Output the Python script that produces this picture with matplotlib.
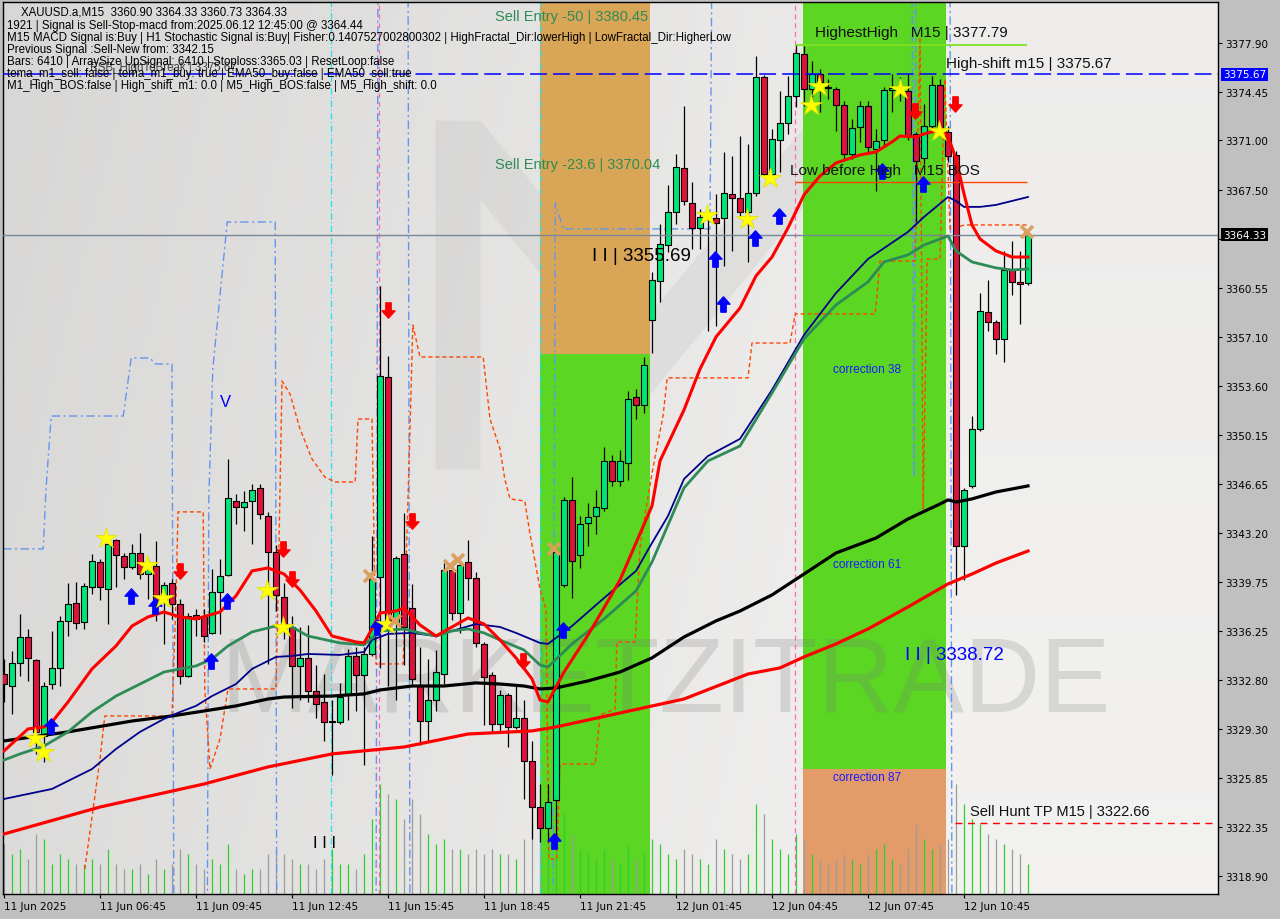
import numpy as np
import matplotlib
matplotlib.use('Agg')
import matplotlib.pyplot as plt
from matplotlib.path import Path
from matplotlib.patches import Polygon
from matplotlib.transforms import blended_transform_factory

plt.rcParams['font.family'] = ['Liberation Sans', 'DejaVu Sans']

# ---------------- data ----------------
opens = [3333.21,3332.36,3333.99,3335.83,3334.20,3328.82,3332.50,3333.64,3336.97,3338.24,
         3336.90,3339.37,3341.15,3339.23,3342.70,3341.57,3340.79,3341.78,3340.30,3340.86,
         3338.38,3339.66,3338.17,3333.07,3337.39,3337.32,3336.12,3339.02,3340.22,3345.46,
         3345.04,3345.46,3346.38,3344.40,3341.85,3338.67,3336.54,3333.78,3334.35,3332.01,
         3331.23,3329.81,3329.81,3331.73,3334.49,3333.14,3334.63,3340.08,3354.25,3336.90,
         3341.71,3337.89,3332.36,3329.88,3331.37,3333.21,3340.58,3337.53,3341.15,3340.01,
         3335.34,3333.14,3329.67,3331.73,3329.46,3330.10,3327.05,3323.79,3322.31,3324.29,
         3339.52,3345.54,3341.64,3343.91,3344.40,3344.97,3348.30,3346.88,3348.16,3352.83,
         3352.26,3358.28,3361.05,3363.60,3365.93,3369.05,3366.57,3364.80,3365.44,3365.51,
         3365.51,3367.21,3366.92,3365.93,3367.28,3375.49,3368.62,3371.03,3372.23,3374.15,
         3377.12,3374.64,3375.70,3374.78,3374.64,3373.51,3370.04,3371.95,3373.44,3370.39,
         3371.03,3374.57,3374.64,3374.50,3371.46,3369.76,3372.02,3374.93,3371.60,3369.97,
         3342.28,3346.53,3350.56,3358.85,3358.14,3356.94,3361.82,3360.97,3360.90]
highs = [3334.27,3334.84,3337.46,3336.40,3334.30,3332.65,3336.26,3337.32,3339.66,3339.73,
         3339.66,3341.71,3341.36,3342.99,3342.77,3341.78,3342.42,3343.20,3341.36,3342.63,
         3339.73,3339.94,3338.52,3337.50,3337.82,3337.82,3340.65,3341.36,3348.44,3345.96,
         3346.17,3346.67,3346.67,3344.69,3342.35,3339.66,3337.32,3336.54,3336.68,3333.85,
         3333.21,3331.37,3332.57,3334.98,3335.12,3335.12,3342.99,3360.69,3355.73,3341.57,
         3344.61,3339.59,3335.12,3334.27,3334.91,3341.07,3341.22,3341.07,3342.70,3340.44,
         3335.48,3333.35,3332.08,3331.87,3332.50,3331.37,3328.47,3325.42,3325.42,3342.35,
         3345.75,3347.16,3344.40,3345.32,3346.24,3349.29,3348.72,3349.08,3353.25,3353.40,
         3355.66,3361.68,3365.08,3367.84,3370.04,3373.44,3368.06,3366.14,3365.79,3367.21,
         3370.18,3369.90,3371.31,3370.75,3376.98,3375.60,3371.81,3374.50,3375.56,3377.79,
         3377.69,3376.63,3376.06,3375.35,3374.78,3373.79,3372.52,3373.79,3373.79,3371.81,
         3374.78,3375.70,3375.50,3375.70,3371.60,3373.58,3375.56,3375.35,3372.02,3370.25,
         3346.38,3351.48,3360.20,3361.12,3358.28,3363.17,3363.88,3363.17,3364.33]
lows = [3331.23,3330.38,3333.07,3332.71,3327.55,3326.98,3332.15,3332.36,3335.90,3336.40,
        3336.40,3338.88,3338.45,3336.75,3339.37,3339.94,3340.65,3339.94,3338.52,3336.97,
        3335.34,3337.11,3332.50,3333.00,3335.90,3335.48,3336.05,3336.05,3340.15,3343.84,
        3343.34,3342.42,3344.19,3333.92,3337.67,3335.69,3330.81,3331.37,3331.23,3330.10,
        3328.47,3326.06,3329.67,3329.96,3330.59,3326.77,3334.49,3333.64,3332.36,3331.37,
        3333.85,3332.50,3328.18,3328.47,3330.59,3332.50,3337.04,3336.12,3338.45,3335.12,
        3329.60,3329.03,3329.03,3328.04,3329.32,3324.36,3321.53,3321.32,3321.32,3320.82,
        3339.37,3338.59,3340.72,3342.28,3343.13,3344.76,3346.53,3346.53,3346.95,3351.27,
        3351.70,3355.95,3359.56,3363.10,3365.08,3366.43,3363.31,3363.31,3357.50,3357.86,
        3362.11,3363.17,3365.65,3362.39,3367.06,3368.50,3368.50,3368.76,3371.46,3373.37,
        3373.40,3373.72,3373.01,3373.93,3371.67,3369.68,3369.68,3370.89,3370.18,3367.42,
        3370.61,3373.01,3373.80,3371.00,3365.22,3369.30,3371.80,3371.30,3369.50,3338.81,
        3339.87,3346.38,3350.42,3357.50,3355.88,3355.31,3360.05,3358.00,3360.73]
closes = [3332.50,3333.99,3335.83,3334.35,3329.11,3332.36,3333.64,3336.97,3338.17,3336.82,
          3339.45,3341.22,3339.37,3342.42,3341.64,3340.79,3341.78,3340.30,3340.65,3338.38,
          3339.52,3338.17,3333.07,3337.32,3337.11,3335.90,3339.02,3340.15,3345.68,3345.04,
          3345.39,3346.24,3344.54,3341.85,3338.81,3336.40,3333.78,3334.35,3332.01,3331.09,
          3329.81,3329.90,3331.58,3334.49,3333.14,3334.63,3339.94,3354.32,3336.54,3341.43,
          3336.54,3332.86,3329.88,3331.37,3333.35,3340.58,3337.53,3340.93,3340.01,3335.41,
          3333.00,3329.67,3331.73,3329.46,3330.10,3327.05,3323.79,3322.31,3324.15,3341.85,
          3345.54,3341.22,3343.84,3344.33,3345.04,3348.30,3346.88,3348.30,3352.69,3352.26,
          3355.10,3361.12,3363.67,3365.93,3369.12,3366.71,3364.80,3365.58,3365.58,3365.15,
          3367.28,3366.92,3365.93,3367.28,3375.49,3368.62,3371.10,3372.23,3374.15,3377.19,
          3374.64,3375.70,3375.14,3374.70,3373.51,3370.04,3371.88,3373.44,3370.53,3370.96,
          3374.57,3374.71,3374.40,3371.31,3369.54,3372.02,3374.93,3371.67,3369.90,3342.28,
          3346.24,3350.56,3358.92,3358.14,3356.94,3361.82,3360.97,3360.83,3364.33]
volumes = [50,40,45,35,60,55,30,40,35,30,30,
           35,30,45,30,25,25,30,20,35,25,30,45,40,30,25,
           35,30,50,25,20,25,25,40,45,40,35,30,30,25,35,
           45,30,30,25,40,75,
           110,100,95,75,95,80,60,50,55,45,45,40,45,40,
           45,40,40,35,55,70,65,60,
           110,80,60,45,40,35,45,35,30,50,35,40,
           55,50,40,35,45,40,35,30,55,45,40,35,40,90,80,
           55,45,40,60,55,40,35,30,35,40,35,30,40,45,50,35,30,45,70,55,45,50,55,
           110,90,75,70,60,55,50,45,40,30]
VOL_FULL = 892.0

time_labels = ["11 Jun 2025", "11 Jun 06:45", "11 Jun 09:45", "11 Jun 12:45", "11 Jun 15:45",
               "11 Jun 18:45", "11 Jun 21:45", "12 Jun 01:45", "12 Jun 04:45", "12 Jun 07:45",
               "12 Jun 10:45"]
price_ticks = [3377.90, 3374.45, 3371.00, 3367.50, 3364.05, 3360.55, 3357.10, 3353.60, 3350.15,
               3346.65, 3343.20, 3339.75, 3336.25, 3332.80, 3329.30, 3325.85, 3322.35, 3318.90]

# moving averages (read at sample bars)
fast_x = [0,3,5,6,8,11,14,16,18,20,22,24,27,29,31,33,35,37,39,41,44,45,46,47,49,50,52,54,56,58,
          60,62,64,66,67,68,70,73,75,77,79,81,82,85,87,89,92,94,96,98,100,102,104,107,109,111,112,
          114,115,117,118,119,120,121,122,124,126,128]
fast_y = [3327.76,3329.32,3329.46,3329.81,3331.23,3333.57,3335.20,3336.61,3337.25,3337.60,
          3337.25,3337.11,3337.60,3338.74,3340.51,3340.72,3340.29,3339.16,3337.67,3335.90,
          3335.48,3335.41,3336.40,3337.53,3337.67,3337.89,3336.68,3335.90,3336.54,3337.18,
          3336.75,3335.62,3334.35,3332.86,3331.37,3331.23,3333.35,3335.97,3337.89,3339.87,
          3342.49,3345.11,3348.30,3351.91,3354.81,3357.08,3359.13,3361.40,3362.74,3364.80,
          3367.14,3368.48,3369.40,3369.97,3370.18,3370.89,3371.31,3371.24,3371.46,3371.74,
          3371.31,3369.68,3367.21,3365.01,3364.02,3363.17,3362.74,3362.74]
green_x = [0,2,5,8,11,14,17,20,22,24,26,28,31,34,36,38,42,45,47,50,52,54,56,58,60,62,65,67,68,71,
           75,79,81,83,85,88,92,96,100,104,108,110,113,115,118,119,121,124,126,128]
green_y = [3327.12,3327.55,3328.11,3329.11,3330.52,3331.65,3332.50,3333.35,3333.57,3333.78,
           3334.27,3335.20,3336.19,3336.61,3336.54,3335.90,3335.41,3335.27,3336.26,3336.40,
           3336.12,3335.90,3336.26,3336.40,3336.12,3335.62,3334.91,3333.85,3333.71,3335.34,
           3337.11,3339.09,3341.14,3343.76,3346.39,3348.30,3349.36,3353.11,3356.94,3359.35,
           3360.98,3362.39,3362.89,3363.59,3364.23,3363.17,3362.39,3361.97,3361.82,3361.89]
navy_x = [0,6,11,14,17,20,22,24,26,29,31,34,36,38,42,45,46,48,51,54,56,59,62,64,67,68,71,75,79,81,
          83,85,88,92,96,100,104,108,113,115,118,119,120,122,124,128]
navy_y = [3324.36,3325.07,3326.48,3327.90,3329.11,3330.03,3330.52,3330.95,3331.65,3332.50,
          3333.57,3334.42,3334.49,3334.63,3334.56,3334.77,3335.62,3336.05,3336.12,3335.90,
          3336.26,3336.75,3336.54,3336.12,3335.41,3335.34,3336.61,3338.59,3340.51,3342.49,
          3344.40,3347.02,3348.65,3349.86,3353.33,3357.22,3360.19,3362.60,3364.52,3365.58,
          3366.99,3366.71,3366.29,3366.29,3366.43,3366.99]
black_x = [0,8,16,21,25,29,33,35,41,45,47,51,55,59,62,65,67,69,73,77,81,85,89,92,96,100,104,109,
           113,117,118,119,121,124,128]
black_y = [3328.47,3329.11,3329.88,3330.24,3330.59,3330.95,3331.44,3331.58,3331.65,3331.80,
           3332.08,3332.36,3332.36,3332.58,3332.50,3332.36,3332.15,3332.22,3332.72,3333.35,
           3334.35,3335.83,3336.97,3337.67,3338.81,3340.29,3341.78,3342.84,3344.19,3345.25,
           3345.54,3345.39,3345.61,3346.10,3346.53]
slow_x = [0,12,25,33,41,50,58,66,69,77,85,93,97,100,104,108,113,118,121,124,128]
slow_y = [3321.88,3323.79,3325.42,3326.63,3327.55,3328.04,3328.96,3329.18,3329.46,3330.45,
          3331.44,3333.21,3333.64,3334.42,3335.34,3336.40,3337.96,3339.59,3340.29,3341.07,3341.92]

# stepped channel lines
orng_x = [10.1,12.0,12.6,21.0,21.5,21.75,24.9,25.1,25.75,27.0,28.0,34.0,34.25,34.75,35.75,37.0,
          38.5,40.1,41.4,43.9,44.25,46.0,46.5,49.9,50.75,51.1,52.0,59.9,60.75,62.0,62.6,63.25,
          65.1,65.75,67.0,67.75,68.1,69.1,69.5,73.9,74.5,76.4,76.6,78.9,79.5,80.1,81.1,82.4,
          82.9,93.0,93.5,98.25,98.9,108.9,109.5,113.9,114.5,114.9,115.4,117.0,117.6,118.25,
          120.1,127.9]
orng_y = [3319.40,3327.19,3330.24,3330.24,3338.52,3344.69,3344.69,3332.15,3326.48,3328.61,
          3332.15,3332.15,3338.52,3353.96,3353.04,3350.56,3348.44,3347.16,3346.81,3346.81,
          3351.27,3351.27,3333.92,3333.92,3350.56,3357.93,3355.66,3355.66,3351.27,3349.15,
          3347.02,3345.61,3345.46,3343.13,3339.23,3337.82,3320.11,3320.11,3326.84,3326.84,
          3330.31,3330.73,3335.48,3335.48,3342.14,3344.40,3347.73,3351.55,3354.18,3354.18,
          3356.65,3356.65,3358.71,3358.71,3362.46,3362.46,3378.18,3344.90,3362.60,3362.60,
          3375.35,3364.73,3365.01,3365.01]
blue_x = [-0.1,4.9,5.25,5.9,14.9,15.9,18.25,18.9,21.0,21.25,25.4,25.6,26.1,27.9,33.9,34.1,
          46.5,46.75,50.5,50.75,68.6,68.9,69.9,88.25,88.5,113.5,113.75,114.0,118.25,118.5,127.9]
blue_y = [3342.07,3342.07,3346.31,3351.48,3351.48,3355.59,3355.59,3355.17,3355.17,3313.74,
          3313.74,3345.61,3354.81,3365.22,3365.22,3313.74,3313.74,3384.56,3384.56,3313.74,
          3313.74,3366.57,3364.73,3364.73,3384.56,3384.56,3347.16,3384.56,3384.56,3313.74,3313.74]

# signal markers
star_x = [3.9,4.9,12.75,17.9,19.9,32.9,34.9,47.9,87.9,92.9,95.75,100.9,101.9,112.0,116.9]
star_y = [3328.68,3327.69,3342.84,3340.93,3338.59,3339.16,3336.54,3336.75,3365.72,3365.44,
          3368.34,3373.51,3374.85,3374.64,3371.67]
up_x = [5.9,15.9,18.9,25.9,27.9,46.6,69.9,68.75,88.9,89.9,93.9,96.9,109.75,114.9]
up_y = [3329.53,3338.74,3338.03,3334.13,3338.38,3336.54,3336.33,3321.39,3362.60,3359.42,
        3364.09,3365.65,3368.84,3367.91]
dn_x = [22.0,34.9,36.0,48.0,51.0,64.9,113.9,118.9]
dn_y = [3340.51,3342.07,3339.94,3358.99,3344.05,3334.13,3373.08,3373.58]
cross_x = [45.75,48.9,55.75,56.75,68.75,127.9]
cross_y = [3340.15,3336.97,3340.86,3341.29,3342.07,3364.52]

# zones
zone1 = (66.95, 80.75, 3355.88)   # orange above, green below
zone2 = (99.9, 117.75, 3326.48)   # green above, orange below

info_lines = [
    "XAUUSD.a,M15  3360.90 3364.33 3360.73 3364.33",
    "1921 | Signal is Sell-Stop-macd from:2025.06.12 12:45:00 @ 3364.44",
    "M15 MACD Signal is:Buy | H1 Stochastic Signal is:Buy| Fisher:0.1407527002800302 | HighFractal_Dir:lowerHigh | LowFractal_Dir:HigherLow",
    "Previous Signal :Sell-New from: 3342.15",
    "Bars: 6410 | ArraySize UpSignal: 6410 | Stoploss:3365.03 | ResetLoop:false",
    "tema_m1_sell: false | tema_m1_buy: true | EMA50_buy:false | EMA50_sell:true",
    "M1_High_BOS:false | High_shift_m1: 0.0 | M5_High_BOS:false | M5_High_shift: 0.0",
]

# ---------------- figure ----------------
W, H = 1280, 920
fig = plt.figure(figsize=(W / 100, H / 100), dpi=100)
fig.patch.set_facecolor('#C0C0C0')
ax = fig.add_axes([3 / W, 25 / H, 1215 / W, 892 / H])
XL = (-0.125, 151.75)
YL = (3317.63, 3380.80)
ax.set_xlim(*XL)
ax.set_ylim(*YL)
ax.set_facecolor('#E2E2E2')

# background gradient
gx = np.linspace(0, 1, 300)[None, :]
gy = np.linspace(0, 1, 300)[:, None]
val = 0.845 + 0.085 * np.clip(gx * 1.3, 0, 1) + 0.02 * gy
img = np.dstack([val, val * 0.997, val * 0.993])
ax.imshow(img, extent=[0, 1, 0, 1], transform=ax.transAxes, aspect='auto', zorder=0)

# faint "M" logo watermark (axes fractions)
m_logo = [(0.356, 0.476), (0.356, 0.867), (0.393, 0.867), (0.528, 0.643), (0.664, 0.867),
          (0.701, 0.867), (0.701, 0.476), (0.664, 0.476), (0.664, 0.778), (0.528, 0.552),
          (0.393, 0.778), (0.393, 0.476)]
ax.add_patch(Polygon(m_logo, closed=True, transform=ax.transAxes, facecolor='#000000',
                     alpha=0.045, edgecolor='none', zorder=0.2))

# zones
c_green = '#5AD623'
c_orange1 = '#D9A556'
c_orange2 = '#E39B69'
ax.fill_between([zone1[0], zone1[1]], zone1[2], YL[1], color=c_orange1, lw=0, zorder=0.5)
ax.fill_between([zone1[0], zone1[1]], YL[0], zone1[2], color=c_green, lw=0, zorder=0.5)
ax.fill_between([zone2[0], zone2[1]], zone2[2], YL[1], color=c_green, lw=0, zorder=0.5)
ax.fill_between([zone2[0], zone2[1]], YL[0], zone2[2], color=c_orange2, lw=0, zorder=0.5)

# watermark text
ax.text(0.545, 0.236, "MARKETZITRADE", transform=ax.transAxes, fontsize=76,
        color='#7A7A7A', alpha=0.22, ha='center', va='center', zorder=1)

# volumes
o = np.array(opens); h = np.array(highs); l = np.array(lows); c = np.array(closes)
h = np.maximum(h, np.maximum(o, c)); l = np.minimum(l, np.minimum(o, c))
x = np.arange(len(o))
up = c >= o
vt = blended_transform_factory(ax.transData, ax.transAxes)
vcols = np.where(up, '#2FCF2F', '#9C9C9C')
ax.vlines(x, 0, np.array(volumes) / VOL_FULL, transform=vt, colors=vcols, lw=0.9, zorder=1.5)

# vertical marker lines
for xv in (40.9, 67.0):
    ax.axvline(xv, color='#22E0F0', lw=0.9, linestyle=(0, (5, 2, 1, 2)), zorder=2)
for xv in (46.9, 98.9):
    ax.axvline(xv, color='#FF69B4', lw=0.9, linestyle=(0, (4, 3)), zorder=2)

# stepped lines
ax.plot(blue_x, blue_y, color='#6495ED', lw=1.0, linestyle=(0, (6, 2.5, 1.5, 2.5)), zorder=2)
ax.plot(orng_x, orng_y, color='#FF4500', lw=1.0, linestyle=(0, (3, 2)), zorder=2)

# candles
ax.vlines(x, l, h, color='black', lw=0.9, zorder=3)
blo = np.minimum(o, c)
bh = np.maximum(np.abs(c - o), 0.08)
ax.bar(x[up], bh[up], bottom=blo[up], width=0.64, color='#00E676', edgecolor='black',
       linewidth=0.8, zorder=3.1)
ax.bar(x[~up], bh[~up], bottom=blo[~up], width=0.64, color='#DC143C', edgecolor='black',
       linewidth=0.8, zorder=3.1)

# horizontal levels
ax.axhline(3375.67, color='#0000FF', lw=1.1, linestyle=(0, (11, 4)), zorder=3.5)
ax.axhline(3364.33, color='#778899', lw=1.0, zorder=3.5)
ax.hlines(3322.66, 118.9, XL[1], color='#FF0000', lw=1.0, linestyle=(0, (5, 4)), zorder=3.5)
ax.hlines(3377.79, 98.9, 127.9, color='#7FE020', lw=1.3, zorder=3.5)
ax.hlines(3368.06, 98.9, 127.9, color='#FF4500', lw=1.0, zorder=3.5)

# moving averages
ax.plot(slow_x, slow_y, color='#FF0000', lw=2.3, zorder=4, solid_joinstyle='round')
ax.plot(black_x, black_y, color='#000000', lw=2.3, zorder=4, solid_joinstyle='round')
ax.plot(navy_x, navy_y, color='#00008B', lw=1.3, zorder=4.1, solid_joinstyle='round')
ax.plot(green_x, green_y, color='#2E8B57', lw=2.0, zorder=4.2, solid_joinstyle='round')
ax.plot(fast_x, fast_y, color='#FF0000', lw=2.2, zorder=4.3, solid_joinstyle='round')

# markers
up_arrow = Path([(0, 1), (0.85, 0.05), (0.35, 0.05), (0.35, -1), (-0.35, -1),
                 (-0.35, 0.05), (-0.85, 0.05), (0, 1)],
                [Path.MOVETO] + [Path.LINETO] * 6 + [Path.CLOSEPOLY])
dn_arrow = Path([(0, -1), (0.85, -0.05), (0.35, -0.05), (0.35, 1), (-0.35, 1),
                 (-0.35, -0.05), (-0.85, -0.05), (0, -1)],
                [Path.MOVETO] + [Path.LINETO] * 6 + [Path.CLOSEPOLY])
ax.plot(up_x, up_y, ls='none', marker=up_arrow, ms=11, color='#0000FF', mec='#0000FF', zorder=5)
ax.plot(dn_x, dn_y, ls='none', marker=dn_arrow, ms=11, color='#FF0000', mec='#FF0000', zorder=5)
ax.plot(star_x, star_y, ls='none', marker='*', ms=16, color='#FFFF00', mec='#E0E000',
        mew=0.5, zorder=5)
ax.plot(cross_x, cross_y, ls='none', marker='x', ms=8, color='#D9A060', mew=2.6, zorder=5)

# chart texts
tk = dict(va='center', ha='left', zorder=6)
ax.text(61.4, 3379.8, "Sell Entry -50 | 3380.45", color='#2E8B57', fontsize=10.5, **tk)
ax.text(61.4, 3369.35, "Sell Entry -23.6 | 3370.04", color='#2E8B57', fontsize=10.5, **tk)
ax.text(73.5, 3362.85, "I I | 3355.69", color='#000000', fontsize=13.5, **tk)
ax.text(101.4, 3378.68, "HighestHigh   M15 | 3377.79", color='#111111', fontsize=11, **tk)
ax.text(117.75, 3376.48, "High-shift m15 | 3375.67", color='#111111', fontsize=11, **tk)
ax.text(98.25, 3368.9, "Low before High   M15 BOS", color='#111111', fontsize=11, **tk)
ax.text(103.6, 3354.81, "correction 38", color='#1A1AFF', fontsize=8.5, **tk)
ax.text(103.6, 3341.0, "correction 61", color='#1A1AFF', fontsize=8.5, **tk)
ax.text(103.6, 3325.92, "correction 87", color='#1A1AFF', fontsize=8.5, **tk)
ax.text(112.6, 3334.56, "I I | 3338.72", color='#0000FF', fontsize=13.5, **tk)
ax.text(120.75, 3323.51, "Sell Hunt TP M15 | 3322.66", color='#111111', fontsize=10.5, **tk)
ax.text(38.6, 3321.31, "I I I", color='#000000', fontsize=12, **tk)
ax.text(27.0, 3352.48, "V", color='#0000FF', fontsize=12, **tk)
ax.text(10.7, 3376.2, "ESB_HighToBreak | 3375.67", color='#404040', fontsize=8.3, **tk)

# info block
for k, line in enumerate(info_lines):
    xp = 21 if k == 0 else 7
    yp = [12.5, 25.7, 37.7, 49.8, 61.7, 73.5, 85.7][k]
    fig.text(xp / W, 1 - yp / H, line, fontsize=8.3, color='black', va='center', ha='left',
             zorder=10)

# axes styling
for s in ax.spines.values():
    s.set_color('black'); s.set_linewidth(1.0)
ax.yaxis.tick_right()
ax.set_yticks(price_ticks)
# the 3364.05 label sits under the current-price box, as in the terminal
ax.set_yticklabels(["" if abs(v - 3364.05) < 1e-6 else f"{v:.2f}" for v in price_ticks],
                   fontfamily='DejaVu Sans', fontsize=7.5)
ax.set_xticks(list(range(0, 121, 12)))
ax.set_xticklabels(time_labels, fontfamily='DejaVu Sans', fontsize=7.5, ha='left')
ax.tick_params(axis='both', direction='out', length=3, width=0.8, color='black', pad=2)

bt = blended_transform_factory(ax.transAxes, ax.transData)
ax.text(1.004, 3375.67, "3375.67", transform=bt, color='white', fontsize=7.5,
        fontfamily='DejaVu Sans', va='center', ha='left', zorder=20, clip_on=False,
        bbox=dict(facecolor='#0000FF', edgecolor='none', pad=1.2))
ax.text(1.004, 3364.33, "3364.33", transform=bt, color='white', fontsize=7.5,
        fontfamily='DejaVu Sans', va='center', ha='left', zorder=20, clip_on=False,
        bbox=dict(facecolor='#000000', edgecolor='none', pad=1.2))

fig.savefig('out.png', dpi=100, facecolor=fig.get_facecolor())
